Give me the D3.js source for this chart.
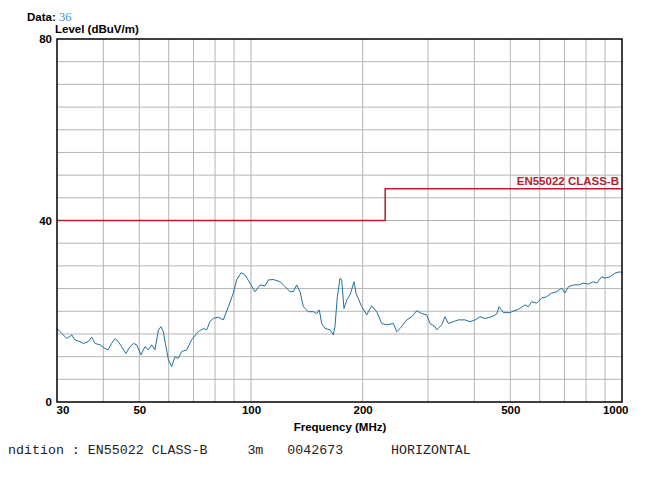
<!DOCTYPE html>
<html>
<head>
<meta charset="utf-8">
<script src="https://cdn.jsdelivr.net/npm/d3@7"></script>
<style>
  body { margin: 0; background: #fff; }
  svg { display: block; font-family: "Liberation Sans", Arial, sans-serif; }
</style>
</head>
<body>
<div id="chart"></div>
<script>
// measured trace (MHz, dBuV/m)
const freqs = [30.0, 30.9, 31.9, 32.9, 33.5, 34.6, 35.3, 36.4, 37.2, 38.0, 39.2, 40.4, 41.2, 42.1, 43.0,
  43.9, 44.8, 46.0, 47.2, 48.2, 49.2, 50.5, 51.8, 52.9, 54.0, 55.1, 56.3, 57.2, 58.0, 59.0,
  59.9, 61.1, 62.4, 63.7, 65.0, 67.1, 69.2, 72.1, 74.4, 76.0, 77.5, 79.1, 81.6, 84.2, 86.9,
  89.6, 91.5, 94.0, 96.3, 99.4, 102.5, 105.8, 109.1, 111.4, 114.9, 119.8, 123.0, 127.4, 130.0, 132.8,
  135.6, 138.4, 142.7, 147.2, 150.4, 152.8, 155.1, 158.3, 163.3, 166.7, 168.4, 170.9, 173.8, 175.6, 178.1,
  181.2, 184.9, 189.5, 191.9, 198.8, 205.1, 211.6, 218.2, 225.1, 232.2, 242.0, 247.1, 252.2, 262.9, 271.2,
  279.7, 288.5, 297.6, 303.8, 313.4, 316.7, 326.6, 333.4, 340.3, 351.0, 362.1, 377.4, 389.4, 401.7, 414.4,
  427.4, 445.5, 459.6, 466.2, 478.8, 499.0, 504.3, 525.4, 547.8, 559.1, 571.0, 589.0, 607.6, 626.8, 646.3,
  667.0, 688.0, 702.3, 716.8, 739.3, 762.6, 786.6, 811.4, 837.1, 854.8, 881.8, 900.0, 928.4, 957.5, 987.7, 1000];
const levels = [16.2, 15.1, 14.0, 14.8, 13.7, 13.3, 12.9, 13.3, 14.3, 12.9, 12.6, 11.8, 11.5, 12.9, 14.0,
  13.3, 12.2, 10.7, 12.2, 12.9, 12.6, 10.4, 12.2, 11.5, 12.6, 11.5, 15.9, 16.6, 15.5, 12.2,
  9.3, 7.8, 10.0, 9.6, 11.1, 11.5, 13.7, 15.5, 16.2, 15.9, 17.7, 18.4, 18.7, 18.1, 21.0,
  24.0, 26.9, 28.5, 28.0, 26.2, 24.3, 25.8, 25.6, 26.9, 27.0, 26.5, 25.6, 24.3, 24.3, 25.8,
  24.3, 21.0, 19.9, 19.9, 19.5, 20.3, 17.3, 16.2, 15.9, 14.8, 16.6, 23.2, 27.3, 26.9, 20.6,
  22.5, 23.6, 26.5, 24.0, 21.0, 19.2, 21.2, 19.9, 17.3, 17.0, 17.3, 15.5, 16.2, 18.1, 18.8,
  20.1, 19.5, 19.2, 17.3, 16.6, 15.9, 17.0, 18.8, 17.3, 17.7, 18.1, 18.1, 17.7, 18.1, 18.8,
  18.4, 18.8, 19.4, 21.0, 19.7, 19.7, 19.9, 20.4, 21.4, 21.0, 22.1, 21.8, 22.9, 23.2, 24.0,
  24.3, 25.1, 24.0, 25.4, 25.8, 25.8, 26.2, 26.0, 26.5, 26.2, 27.6, 27.3, 27.6, 28.4, 28.7, 28.4];

// EN55022 class B limit
const limitFreqs = [30, 230, 230, 1000];
const limitLevels = [40, 40, 47, 47];

const xTickLabels = [30, 50, 100, 200, 500, 1000];
const xGrid = [40, 50, 60, 70, 80, 90, 100, 200, 300, 400, 500, 600, 700, 800, 900];
const yTickLabels = [0, 40, 80];

const W = 657, H = 478;
const pLeft = 57, pRight = 622, pTop = 39, pBottom = 402;

const svg = d3.select("#chart").append("svg")
  .attr("width", W)
  .attr("height", H);

const x = d3.scaleLog().domain([30, 1000]).range([pLeft, pRight]);
const y = d3.scaleLinear().domain([0, 80]).range([pBottom, pTop]);

// grid
svg.append("g")
  .selectAll("line")
  .data(xGrid)
  .enter()
  .append("line")
  .attr("x1", d => x(d)).attr("x2", d => x(d))
  .attr("y1", pTop).attr("y2", pBottom)
  .attr("stroke", "#b4b4b4")
  .attr("stroke-width", 1);

svg.append("g")
  .selectAll("line")
  .data(d3.range(5, 80, 5))
  .enter()
  .append("line")
  .attr("x1", pLeft).attr("x2", pRight)
  .attr("y1", d => y(d)).attr("y2", d => y(d))
  .attr("stroke", "#b4b4b4")
  .attr("stroke-width", 1);

// limit line
const limitLine = d3.line()
  .x(d => x(d[0]))
  .y(d => y(d[1]));

svg.append("path")
  .datum(limitFreqs.map((f, i) => [f, limitLevels[i]]))
  .attr("fill", "none")
  .attr("stroke", "#b3202c")
  .attr("stroke-width", 1.5)
  .attr("d", limitLine);

svg.append("text")
  .attr("x", pRight - 3)
  .attr("y", y(limitLevels[3]) - 4)
  .attr("text-anchor", "end")
  .attr("fill", "#b3202c")
  .style("font-size", "11.5px")
  .style("font-weight", "bold")
  .text("EN55022 CLASS-B");

// trace
const trace = d3.line()
  .x(d => x(d[0]))
  .y(d => y(d[1]));

svg.append("path")
  .datum(freqs.map((f, i) => [f, levels[i]]))
  .attr("fill", "none")
  .attr("stroke", "#22709f")
  .attr("stroke-width", 1)
  .attr("stroke-linejoin", "round")
  .attr("d", trace);

// frame
svg.append("rect")
  .attr("x", pLeft).attr("y", pTop)
  .attr("width", pRight - pLeft).attr("height", pBottom - pTop)
  .attr("fill", "none")
  .attr("stroke", "#000")
  .attr("stroke-width", 1.5);

// axes
const xAxis = svg.append("g")
  .attr("transform", `translate(0,${pBottom})`)
  .call(d3.axisBottom(x).tickValues(xTickLabels).tickSize(0).tickPadding(4).tickFormat(d3.format("d")));
xAxis.select(".domain").remove();
xAxis.selectAll("text")
  .style("font-size", "11.5px")
  .style("font-weight", "bold")
  .attr("fill", "#000")
  .attr("text-anchor", (d, i) => i === 0 ? "start" : (i === xTickLabels.length - 1 ? "end" : "middle"))
  .attr("dx", (d, i) => i === 0 ? -1 : (i === xTickLabels.length - 1 ? 6 : 0));

const yAxis = svg.append("g")
  .attr("transform", `translate(${pLeft},0)`)
  .call(d3.axisLeft(y).tickValues(yTickLabels).tickSize(0).tickPadding(5));
yAxis.select(".domain").remove();
yAxis.selectAll("text")
  .style("font-size", "11.5px")
  .style("font-weight", "bold")
  .attr("fill", "#000");

// labels
svg.append("text")
  .attr("x", 340)
  .attr("y", 431)
  .attr("text-anchor", "middle")
  .style("font-size", "11.5px")
  .style("font-weight", "bold")
  .text("Frequency (MHz)");

svg.append("text")
  .attr("x", 55)
  .attr("y", 33)
  .style("font-size", "11.5px")
  .style("font-weight", "bold")
  .text("Level (dBuV/m)");

const dataLabel = svg.append("text")
  .attr("x", 27)
  .attr("y", 21)
  .style("font-size", "11.5px");
dataLabel.append("tspan").style("font-weight", "bold").text("Data: ");
dataLabel.append("tspan").attr("fill", "#3a8cc4")
  .style("font-family", "'Liberation Serif', serif")
  .style("font-size", "12.5px")
  .text("36");

svg.append("text")
  .attr("x", 8)
  .attr("y", 454)
  .style("font-family", "'Liberation Mono', monospace")
  .style("font-size", "13.3px")
  .style("white-space", "pre")
  .attr("fill", "#222")
  .text("ndition : EN55022 CLASS-B     3m   0042673      HORIZONTAL");
</script>
</body>
</html>
